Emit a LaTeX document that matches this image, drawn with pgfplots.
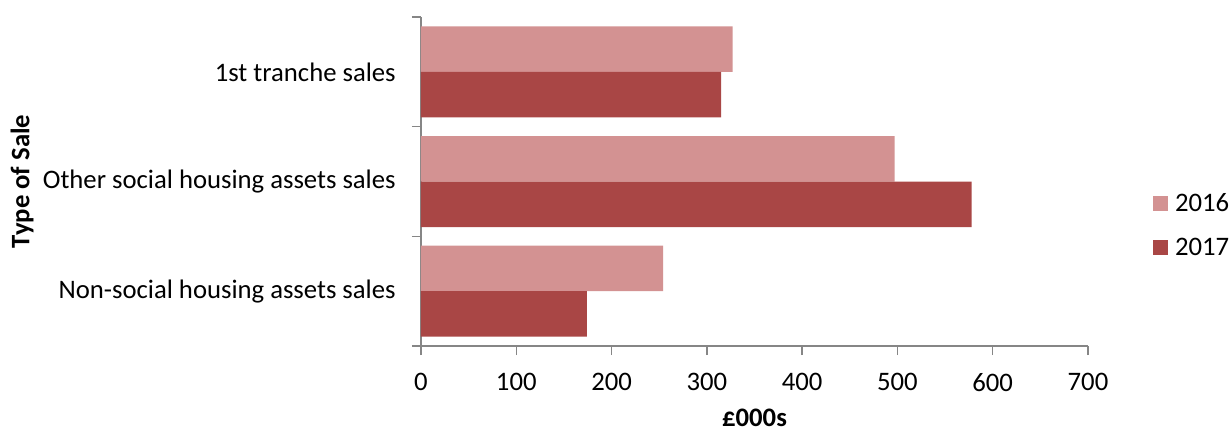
\documentclass[border=0pt]{standalone}
\usepackage{pgfplots}
\pgfplotsset{compat=1.18}
\usepackage{fontspec}
\setmainfont{Carlito}

\definecolor{sale16}{RGB}{211,146,146}
\definecolor{sale17}{RGB}{169,70,69}
\definecolor{axisgrey}{RGB}{134,134,134}

\newcommand{\chartfont}{\fontsize{13.4}{16}\selectfont}

\begin{document}
\chartfont
\begin{tikzpicture}
\useasboundingbox (-210.5bp,-43bp) rectangle (404.5bp,173bp);
\begin{axis}[
  at={(0,0)}, anchor=south west,
  scale only axis,
  width=333.5bp, height=164.5bp,
  xmin=0, xmax=700,
  ymin=-0.5, ymax=2.5,
  xbar, bar width=22.75bp,
  axis x line*=bottom, axis y line*=left,
  axis line style={axisgrey, line width=0.75bp, -},
  tick style={axisgrey, line width=0.75bp},
  tick align=outside,
  major tick length=4.5bp,
  xtick={0,100,...,700},
  ytick={-0.5,0.5,1.5,2.5},
  yticklabels={},
  extra y ticks={0,1,2},
  extra y tick labels={Non-social housing assets sales,Other social housing assets sales,1st tranche sales},
  extra y tick style={major tick length=0pt, yticklabel style={xshift=-8bp}},
  /pgf/number format/assume math mode=true,
  tick label style={font=\chartfont},
  xticklabel style={yshift=-4.5bp},
  every axis x label/.style={at={(axis description cs:0.5,-0.218)}, anchor=center, inner sep=1pt, font=\bfseries\chartfont},
  every axis y label/.style={at={(axis description cs:-0.598,0.5)}, rotate=90, anchor=center, font=\bfseries\chartfont},
  xlabel={£000s},
  ylabel={Type of Sale},
  legend style={draw=none, fill=none, at={(1.0975,0.368)}, anchor=west,
    inner sep=0pt, outer sep=0pt, row sep=13bp,
    font=\chartfont,
    nodes={inner sep=0pt, text height=9bp, text depth=0pt}},
  legend cell align=left,
  legend image code/.code={\fill[#1] (0bp,-3.85bp) rectangle (7.5bp,3.65bp);},
  /tikz/every odd column/.append style={column sep=3.5bp},
]
% 2016 sits above 2017 within each category
\addplot[fill=sale16, draw=none, bar shift=11.375bp] coordinates {
  (254,0) (497,1) (327,2)
};
\addplot[fill=sale17, draw=none, bar shift=-11.375bp] coordinates {
  (174,0) (578,1) (315,2)
};
\legend{2016,2017}
\end{axis}
\end{tikzpicture}
\end{document}
